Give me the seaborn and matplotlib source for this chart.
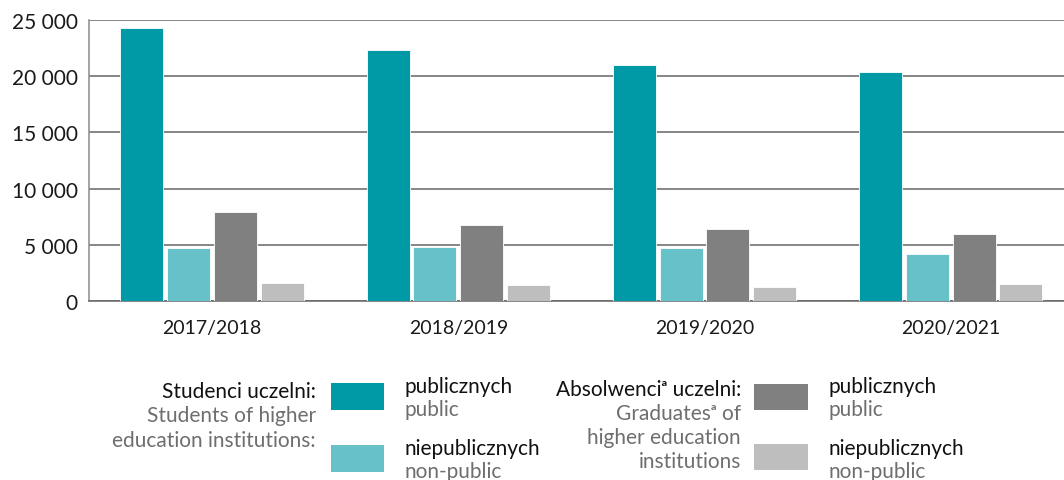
import pandas as pd
import matplotlib.pyplot as plt
import seaborn as sns
from matplotlib.patches import Rectangle
from matplotlib.ticker import FuncFormatter

# ── DATA ──────────────────────────────────────────
years = ["2017/2018", "2018/2019", "2019/2020", "2020/2021"]
students_public = [24260, 22360, 21000, 20370]
students_nonpublic = [4715, 4780, 4740, 4180]
graduates_public = [7945, 6730, 6430, 5960]
graduates_nonpublic = [1600, 1450, 1245, 1510]

series = ["s_pub", "s_non", "g_pub", "g_non"]
colors = ["#009aa6", "#66c2c8", "#808080", "#bebebe"]

df = pd.DataFrame({
    "year": years * 4,
    "series": [s for s in series for _ in years],
    "value": students_public + students_nonpublic + graduates_public + graduates_nonpublic,
})

# ── PLOT ──────────────────────────────────────────
sns.set_style("white")
plt.rcParams["font.family"] = ["Lato", "DejaVu Sans"]

W, H = 1064, 481
fig = plt.figure(figsize=(W / 100, H / 100), dpi=100)
ax = fig.add_axes([89 / W, 1 - 302 / H, 1 - 89 / W, (302 - 21) / H])

sns.barplot(data=df, x="year", y="value", hue="series", hue_order=series,
            palette=colors, width=0.76, gap=0.08, saturation=1,
            edgecolor="white", linewidth=0.6, legend=False, ax=ax, zorder=3)

ax.set_ylim(0, 25000)
ax.set_xlim(-0.5, 3.46)
ax.set_yticks(range(0, 25001, 5000))
ax.yaxis.set_major_formatter(FuncFormatter(lambda v, p: f"{int(v):,}".replace(",", " ")))
ax.grid(axis="y", color="#666666", linewidth=1.1, zorder=0)
ax.set_axisbelow(True)
ax.tick_params(axis="y", length=0, pad=8, labelsize=15, colors="#1a1a1a")
ax.tick_params(axis="x", length=0, pad=13, labelsize=14, colors="#1a1a1a")
ax.set_xlabel("")
ax.set_ylabel("")
for s in ["top", "right"]:
    ax.spines[s].set_visible(False)
ax.spines["left"].set_color("#8a8a8a")
ax.spines["left"].set_linewidth(1.1)
ax.spines["bottom"].set_color("#666666")
ax.spines["bottom"].set_linewidth(1.1)


# ── LEGEND (hand-built, pixel layout) ─────────────
def fy(py):
    return 1 - py / H


def fx(px):
    return px / W


grey = "#6e6e6e"
fs = 15


def box(x0, y0, x1, y1, c):
    fig.add_artist(Rectangle((fx(x0), fy(y1)), fx(x1 - x0), (y1 - y0) / H,
                             transform=fig.transFigure, facecolor=c, edgecolor="none"))


# students block
fig.text(fx(316), fy(398), "Studenci uczelni:", ha="right", va="baseline", fontsize=fs, color="#111111")
fig.text(fx(316), fy(422), "Students of higher", ha="right", va="baseline", fontsize=fs, color=grey)
fig.text(fx(316), fy(447), "education institutions:", ha="right", va="baseline", fontsize=fs, color=grey)
box(331, 384, 384, 411, colors[0])
box(331, 446, 384, 473, colors[1])
fig.text(fx(405), fy(393), "publicznych", ha="left", va="baseline", fontsize=fs, color="#111111")
fig.text(fx(405), fy(416), "public", ha="left", va="baseline", fontsize=fs, color=grey)
fig.text(fx(405), fy(455), "niepublicznych", ha="left", va="baseline", fontsize=fs, color="#111111")
fig.text(fx(405), fy(478), "non-public", ha="left", va="baseline", fontsize=fs, color=grey)

# graduates block
fig.text(fx(741), fy(396), "Absolwenci\u1d43 uczelni:", ha="right", va="baseline", fontsize=fs, color="#111111")
fig.text(fx(741), fy(420), "Graduates\u1d43 of", ha="right", va="baseline", fontsize=fs, color=grey)
fig.text(fx(741), fy(444), "higher education", ha="right", va="baseline", fontsize=fs, color=grey)
fig.text(fx(741), fy(468), "institutions", ha="right", va="baseline", fontsize=fs, color=grey)
box(754, 385, 808, 411, colors[2])
box(754, 445, 808, 471, colors[3])
fig.text(fx(828), fy(393), "publicznych", ha="left", va="baseline", fontsize=fs, color="#111111")
fig.text(fx(828), fy(416), "public", ha="left", va="baseline", fontsize=fs, color=grey)
fig.text(fx(828), fy(455), "niepublicznych", ha="left", va="baseline", fontsize=fs, color="#111111")
fig.text(fx(828), fy(478), "non-public", ha="left", va="baseline", fontsize=fs, color=grey)

fig.savefig("out.png", dpi=100)
